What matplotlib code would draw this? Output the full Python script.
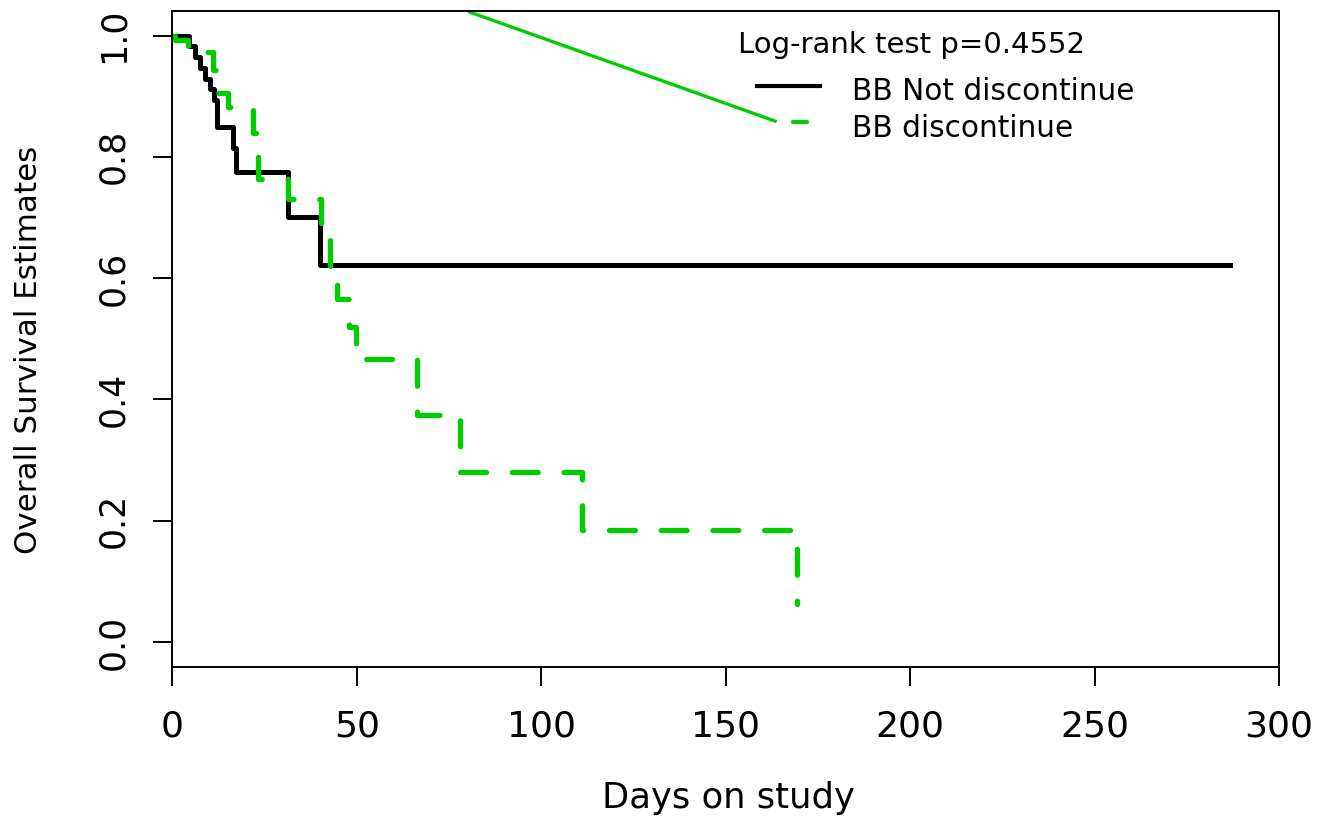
import matplotlib
matplotlib.use("Agg")
import matplotlib.pyplot as plt

plt.rcParams['font.family'] = ['DejaVu Sans']

# Kaplan-Meier step points
black_days = [0, 4.5, 6.2, 7.5, 8.9, 10.2, 11.4, 12.2, 16.4, 17.3, 31.3, 40.0, 286.7]
black_surv = [1.0, 0.982, 0.964, 0.946, 0.929, 0.911, 0.893, 0.849, 0.814, 0.775, 0.701, 0.621, 0.621]

green_days = [0, 0.8, 4.2, 10.9, 11.7, 15.0, 21.9, 23.3, 31.3, 40.3, 42.7, 44.6, 48.0, 49.8,
              66.2, 78.0, 111.0, 169.3]
green_surv = [1.0, 0.993, 0.972, 0.943, 0.906, 0.882, 0.84, 0.763, 0.731, 0.691, 0.602, 0.565,
              0.52, 0.466, 0.375, 0.280, 0.185, 0.062]

# stray green segment that runs into the legend
stray_days = [80.2, 163.8]
stray_surv = [1.0396, 0.858]

x_ticks = [0, 50, 100, 150, 200, 250, 300]
y_ticks = [0.0, 0.2, 0.4, 0.6, 0.8, 1.0]
y_tick_labels = ["0.0", "0.2", "0.4", "0.6", "0.8", "1.0"]

p_text = "Log-rank test p=0.4552"
labels = ["BB Not discontinue", "BB discontinue"]

GREEN = "#00CD00"

fig = plt.figure(figsize=(13.32, 8.21), dpi=100)
ax = fig.add_axes([0.1294, 0.188, 0.8308, 0.798])

ax.step(black_days, black_surv, where='post', color='black', lw=3.6)
ax.step(green_days, green_surv, where='post', color=GREEN, lw=3.8,
        linestyle=(0, (4.9, 4.9)), dash_capstyle='round', dash_joinstyle='round')
ax.plot(stray_days, stray_surv, color=GREEN, lw=2.4, clip_on=False,
        solid_capstyle='butt')

ax.set_xlim(0, 300)
ax.set_ylim(-0.0407, 1.0396)
ax.set_xticks(x_ticks)
ax.set_yticks(y_ticks)
ax.set_yticklabels(y_tick_labels)
for s in ax.spines.values():
    s.set_linewidth(1.4)
ax.tick_params(axis='both', direction='out', length=13.7, width=1.4)
ax.tick_params(axis='x', pad=17, labelsize=26)
ax.tick_params(axis='y', pad=16.4, labelsize=25)
for lab in ax.get_yticklabels():
    lab.set_rotation(90)
    lab.set_va('center')
    lab.set_ha('right')

fig.text(728.5 / 1332, 1 - 808 / 821, "Days on study", fontsize=25.5,
         ha='center', va='baseline')
fig.text(36.7 / 1332, 1 - 350 / 821, "Overall Survival Estimates", fontsize=22.3,
         ha='center', va='baseline', rotation=90, rotation_mode='anchor')

# legend, laid out by hand
ax.text(0.5114, 0.9362, p_text, transform=ax.transAxes, fontsize=21, va='baseline')
ax.text(0.6139, 0.8649, labels[0], transform=ax.transAxes, fontsize=21.3, va='baseline')
ax.text(0.6139, 0.8089, labels[1], transform=ax.transAxes, fontsize=21.3, va='baseline')
ax.plot([0.5281, 0.5853], [0.8863, 0.8863], transform=ax.transAxes, color='black',
        lw=3.0, clip_on=False)
ax.plot([0.5611, 0.5732], [0.8313, 0.8313], transform=ax.transAxes, color=GREEN,
        lw=3.0, solid_capstyle='round', clip_on=False)

fig.savefig("out.png", dpi=100)
